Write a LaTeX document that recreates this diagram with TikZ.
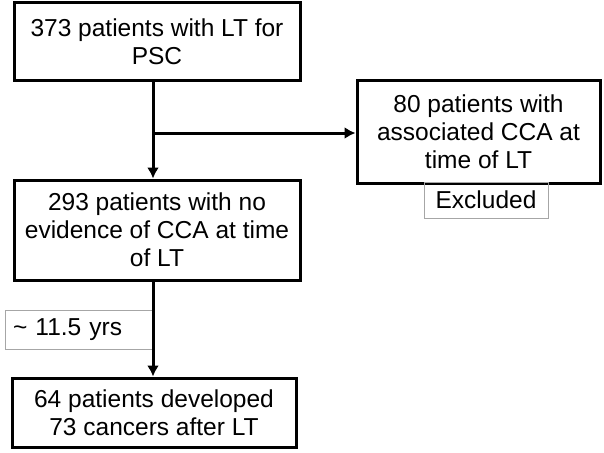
\documentclass[tikz,border=0pt]{standalone}
\usepackage{fontspec}
\setmainfont{Liberation Sans}
\usetikzlibrary{arrows.meta}

\tikzset{
  stage/.style={draw, line width=3pt, align=center, inner sep=0pt,
    font=\fontsize{24.5}{28}\selectfont},
  remark/.style={draw=gray!70, line width=0.8pt, inner sep=0pt,
    font=\fontsize{24.5}{27}\selectfont},
  flow/.style={line width=3pt, -{Latex[length=11pt,width=12pt]}}
}

\begin{document}
\begin{tikzpicture}[x=1pt,y=-1pt]

  \useasboundingbox (0,0) rectangle (604,452);

  % Boxes
  \node[stage, minimum width=286pt, minimum height=77pt] (psc) at (157,41.5)
    {373 patients with LT for\\PSC};
  \node[stage, minimum width=243pt, minimum height=103pt] (cca) at (478.5,131.5)
    {80 patients with\\associated CCA at\\time of LT};
  \node[stage, minimum width=286pt, minimum height=100pt] (nocca) at (157,230)
    {293 patients with no\\evidence of CCA at time\\of LT};
  \node[stage, minimum width=284pt, minimum height=69pt] (cancer) at (154,412.5)
    {64 patients developed\\73 cancers after LT};

  % Side notes
  \node[remark, minimum width=124pt, minimum height=36pt] (excl) at (486,200) {Excluded};
  \node[remark, minimum width=148pt, minimum height=39pt, text width=132pt, align=left]
    (yrs) at (79,329.5) {\textasciitilde{} 11.5 yrs};

  % Flows
  \coordinate (split) at (153,133);
  \draw[flow] (psc.south -| split) -- (nocca.north -| split);
  \draw[flow] (split) -- (split -| cca.west);
  \draw[flow] (nocca.south -| split) -- (cancer.north -| split);

\end{tikzpicture}
\end{document}
